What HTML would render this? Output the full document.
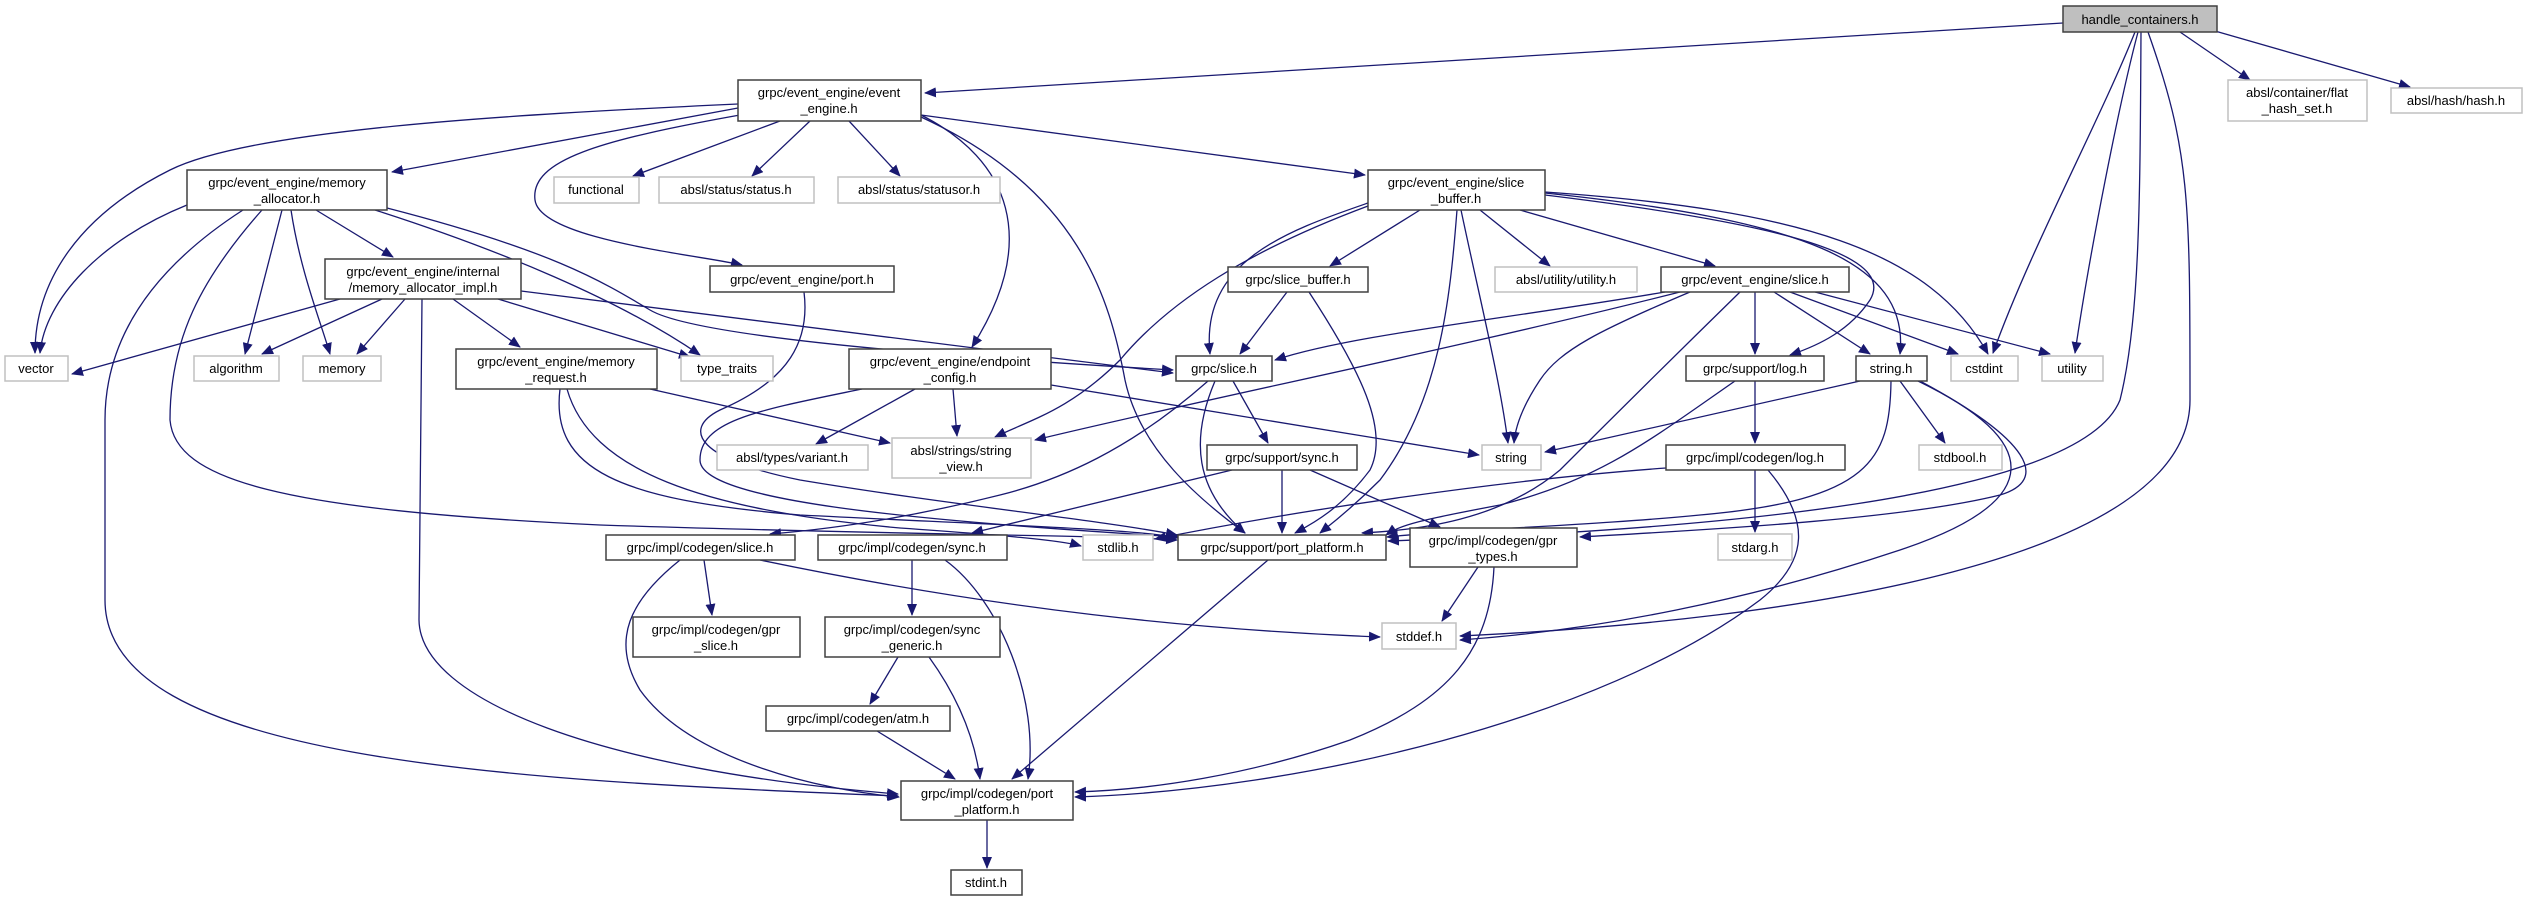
<!DOCTYPE html>
<html><head><meta charset="utf-8"><style>
html,body{margin:0;padding:0;background:#fff;width:2527px;height:901px;overflow:hidden}
svg text{font-family:"Liberation Sans",sans-serif;font-size:13px;fill:#000;text-anchor:middle}
.e{fill:none;stroke:#191970;stroke-width:1.3;marker-end:url(#a)}
.n{fill:#fff;stroke:#404040;stroke-width:1.5}
.g{fill:#fff;stroke:#c0c0c0;stroke-width:1.5}
</style></head><body>
<svg width="2527" height="901" viewBox="0 0 2527 901" xmlns="http://www.w3.org/2000/svg">
<defs><marker id="a" markerUnits="userSpaceOnUse" markerWidth="12" markerHeight="10" viewBox="0 0 12 10" refX="11" refY="5" orient="auto"><path d="M0,0 L12,5 L0,10 z" fill="#191970"/></marker></defs>
<g>
<!-- HC -->
<path class="e" d="M2063,23 L925,93"/>
<path class="e" d="M2180,32 L2250,80"/>
<path class="e" d="M2215,31 L2410,87"/>
<path class="e" d="M2135,32 C2100,120 2030,250 1993,353"/>
<path class="e" d="M2138,32 C2120,100 2090,250 2075,353"/>
<path class="e" d="M2141,32 C2140,200 2140,320 2120,400 C2080,500 1700,530 1388,541"/>
<path class="e" d="M2148,32 C2190,150 2190,200 2190,400 C2190,560 1800,620 1460,636"/>
<!-- EE -->
<path class="e" d="M738,104 C500,115 250,130 170,170 C80,215 35,280 35,353"/>
<path class="e" d="M738,108 L392,172"/>
<path class="e" d="M780,121 L633,176"/>
<path class="e" d="M810,121 L752,176"/>
<path class="e" d="M849,121 L900,176"/>
<path class="e" d="M740,115 C600,140 530,160 535,200 C540,240 700,255 742,265"/>
<path class="e" d="M921,115 C1010,160 1040,240 972,347"/>
<path class="e" d="M921,117 C1080,190 1110,300 1125,380 C1140,450 1200,500 1245,533"/>
<path class="e" d="M921,115 L1365,175"/>
<!-- MA -->
<path class="e" d="M187,205 C100,240 45,300 40,353"/>
<path class="e" d="M282,210 L245,354"/>
<path class="e" d="M291,210 C300,270 320,320 330,354"/>
<path class="e" d="M316,210 L393,257"/>
<path class="e" d="M375,210 C500,250 620,300 700,355"/>
<path class="e" d="M387,208 C550,250 600,280 650,310 C700,340 1000,360 1173,370"/>
<path class="e" d="M243,210 C150,270 105,340 105,420 L105,600 C105,760 500,780 898,796"/>
<path class="e" d="M262,210 C200,280 170,340 170,420 C175,480 280,510 600,525 C900,535 1100,535 1177,540"/>
<!-- MAI -->
<path class="e" d="M340,299 L72,374"/>
<path class="e" d="M382,299 L262,354"/>
<path class="e" d="M405,299 L357,354"/>
<path class="e" d="M453,299 L520,347"/>
<path class="e" d="M498,299 L690,357"/>
<path class="e" d="M521,291 L1173,373"/>
<path class="e" d="M422,299 L419,620 C420,700 600,770 898,794"/>
<!-- MR -->
<path class="e" d="M650,389 L890,443"/>
<path class="e" d="M560,389 C550,470 620,500 800,515 C1000,525 1150,530 1177,538"/>
<path class="e" d="M567,389 C590,470 700,510 900,528 C1000,535 1060,540 1081,546"/>
<path class="e" d="M804,292 C810,340 790,380 720,410 C680,430 700,460 800,480 C950,505 1100,520 1177,535"/>
<!-- EC -->
<path class="e" d="M915,389 L816,444"/>
<path class="e" d="M953,389 L957,436"/>
<path class="e" d="M1051,385 L1479,455"/>
<path class="e" d="M862,389 C760,410 700,420 700,460 C700,500 900,520 1180,537"/>
<!-- GS -->
<path class="e" d="M1233,381 L1268,443"/>
<path class="e" d="M1215,381 C1190,440 1195,490 1245,533"/>
<path class="e" d="M1208,381 C1130,450 1060,480 1000,495 C900,520 820,530 770,534"/>
<!-- SBE -->
<path class="e" d="M1368,203 C1290,230 1200,260 1210,354"/>
<path class="e" d="M1368,206 C1250,250 1170,300 1120,360 C1070,410 1030,420 995,437"/>
<path class="e" d="M1420,210 L1330,266"/>
<path class="e" d="M1480,210 L1550,266"/>
<path class="e" d="M1520,210 L1715,266"/>
<path class="e" d="M1457,210 C1450,300 1440,400 1380,480 C1350,510 1330,525 1320,533"/>
<path class="e" d="M1461,210 C1480,300 1500,380 1508,443"/>
<path class="e" d="M1545,195 C1750,220 1900,250 1870,300 C1850,330 1820,345 1790,355"/>
<path class="e" d="M1545,193 C1800,220 1910,260 1900,354"/>
<path class="e" d="M1545,192 C1800,210 1930,250 1988,354"/>
<!-- GSB -->
<path class="e" d="M1287,292 L1240,354"/>
<path class="e" d="M1309,292 C1360,370 1390,430 1370,470 C1340,510 1310,525 1295,533"/>
<!-- ES -->
<path class="e" d="M1665,292 C1500,320 1350,335 1275,360"/>
<path class="e" d="M1680,292 C1450,350 1200,400 1035,440"/>
<path class="e" d="M1690,292 C1600,330 1560,350 1540,380 C1520,410 1515,430 1514,443"/>
<path class="e" d="M1740,292 C1650,380 1600,430 1560,470 C1500,520 1420,530 1362,533"/>
<path class="e" d="M1755,292 L1755,354"/>
<path class="e" d="M1774,292 L1870,354"/>
<path class="e" d="M1790,292 L1958,354"/>
<path class="e" d="M1815,292 L2050,354"/>
<!-- log.h -->
<path class="e" d="M1755,381 L1755,443"/>
<path class="e" d="M1735,381 C1650,440 1600,480 1500,505 C1420,520 1400,525 1386,535"/>
<!-- string.h -->
<path class="e" d="M1860,381 L1545,452"/>
<path class="e" d="M1900,381 L1945,443"/>
<path class="e" d="M1891,381 C1890,460 1870,500 1700,515 C1600,525 1450,530 1387,537"/>
<path class="e" d="M1918,381 C2040,440 2050,500 1900,550 C1750,600 1600,630 1460,640"/>
<path class="e" d="M1920,381 C2030,440 2050,480 2000,495 C1900,520 1700,530 1580,537"/>
<!-- icg log -->
<path class="e" d="M1755,470 L1755,532"/>
<path class="e" d="M1666,468 C1500,480 1300,510 1155,539"/>
<path class="e" d="M1768,470 C1810,520 1810,560 1760,600 C1600,720 1300,790 1075,797"/>
<!-- support sync -->
<path class="e" d="M1232,470 L972,533"/>
<path class="e" d="M1282,470 L1282,533"/>
<path class="e" d="M1310,470 L1440,527"/>
<!-- icg slice -->
<path class="e" d="M704,560 L712,615"/>
<path class="e" d="M760,560 C1000,610 1200,630 1380,637"/>
<path class="e" d="M680,560 C630,600 610,640 640,690 C690,760 820,790 899,797"/>
<!-- icg sync -->
<path class="e" d="M912,560 L912,615"/>
<path class="e" d="M945,560 C1000,600 1040,700 1028,779"/>
<path class="e" d="M898,657 L870,704"/>
<path class="e" d="M929,657 C960,700 975,740 980,779"/>
<path class="e" d="M877,731 L955,779"/>
<path class="e" d="M1268,560 L1012,779"/>
<path class="e" d="M1478,567 L1442,621"/>
<path class="e" d="M1494,567 C1490,650 1450,700 1350,740 C1250,775 1150,790 1075,792"/>
<path class="e" d="M987,820 L987,868"/>
</g>
<g>
<rect x="2063" y="6" width="154" height="26" fill="#bfbfbf" stroke="#404040" stroke-width="1.5"/><text x="2140" y="24">handle_containers.h</text>
<rect class="g" x="2228" y="80" width="139" height="41"/><text x="2297" y="97">absl/container/flat</text><text x="2297" y="113">_hash_set.h</text>
<rect class="g" x="2391" y="88" width="131" height="25"/><text x="2456" y="105">absl/hash/hash.h</text>
<rect class="n" x="738" y="80" width="183" height="41"/><text x="829" y="97">grpc/event_engine/event</text><text x="829" y="113">_engine.h</text>
<rect class="n" x="187" y="170" width="200" height="40"/><text x="287" y="187">grpc/event_engine/memory</text><text x="287" y="203">_allocator.h</text>
<rect class="g" x="554" y="177" width="85" height="26"/><text x="596" y="194">functional</text>
<rect class="g" x="659" y="177" width="155" height="26"/><text x="736" y="194">absl/status/status.h</text>
<rect class="g" x="838" y="177" width="162" height="26"/><text x="919" y="194">absl/status/statusor.h</text>
<rect class="n" x="1368" y="170" width="177" height="40"/><text x="1456" y="187">grpc/event_engine/slice</text><text x="1456" y="203">_buffer.h</text>
<rect class="n" x="325" y="259" width="196" height="40"/><text x="423" y="276">grpc/event_engine/internal</text><text x="423" y="292">/memory_allocator_impl.h</text>
<rect class="n" x="710" y="266" width="184" height="26"/><text x="802" y="284">grpc/event_engine/port.h</text>
<rect class="n" x="1228" y="267" width="140" height="25"/><text x="1298" y="284">grpc/slice_buffer.h</text>
<rect class="g" x="1495" y="267" width="142" height="25"/><text x="1566" y="284">absl/utility/utility.h</text>
<rect class="n" x="1661" y="267" width="188" height="25"/><text x="1755" y="284">grpc/event_engine/slice.h</text>
<rect class="g" x="5" y="356" width="63" height="25"/><text x="36" y="373">vector</text>
<rect class="g" x="194" y="356" width="85" height="25"/><text x="236" y="373">algorithm</text>
<rect class="g" x="303" y="356" width="78" height="25"/><text x="342" y="373">memory</text>
<rect class="n" x="456" y="349" width="201" height="40"/><text x="556" y="366">grpc/event_engine/memory</text><text x="556" y="382">_request.h</text>
<rect class="g" x="681" y="356" width="92" height="25"/><text x="727" y="373">type_traits</text>
<rect class="n" x="849" y="349" width="202" height="40"/><text x="950" y="366">grpc/event_engine/endpoint</text><text x="950" y="382">_config.h</text>
<rect class="n" x="1176" y="356" width="96" height="25"/><text x="1224" y="373">grpc/slice.h</text>
<rect class="n" x="1686" y="356" width="138" height="25"/><text x="1755" y="373">grpc/support/log.h</text>
<rect class="n" x="1856" y="356" width="71" height="25"/><text x="1891" y="373">string.h</text>
<rect class="g" x="1951" y="356" width="67" height="25"/><text x="1984" y="373">cstdint</text>
<rect class="g" x="2042" y="356" width="61" height="25"/><text x="2072" y="373">utility</text>
<rect class="g" x="717" y="445" width="151" height="25"/><text x="792" y="462">absl/types/variant.h</text>
<rect class="g" x="892" y="438" width="139" height="40"/><text x="961" y="455">absl/strings/string</text><text x="961" y="471">_view.h</text>
<rect class="n" x="1207" y="445" width="150" height="25"/><text x="1282" y="462">grpc/support/sync.h</text>
<rect class="g" x="1482" y="445" width="59" height="25"/><text x="1511" y="462">string</text>
<rect class="n" x="1666" y="445" width="179" height="25"/><text x="1755" y="462">grpc/impl/codegen/log.h</text>
<rect class="g" x="1919" y="445" width="83" height="25"/><text x="1960" y="462">stdbool.h</text>
<rect class="n" x="606" y="535" width="189" height="25"/><text x="700" y="552">grpc/impl/codegen/slice.h</text>
<rect class="n" x="818" y="535" width="189" height="25"/><text x="912" y="552">grpc/impl/codegen/sync.h</text>
<rect class="g" x="1083" y="535" width="70" height="25"/><text x="1118" y="552">stdlib.h</text>
<rect class="n" x="1178" y="535" width="208" height="25"/><text x="1282" y="552">grpc/support/port_platform.h</text>
<rect class="n" x="1410" y="528" width="167" height="39"/><text x="1493" y="545">grpc/impl/codegen/gpr</text><text x="1493" y="561">_types.h</text>
<rect class="g" x="1718" y="534" width="74" height="26"/><text x="1755" y="552">stdarg.h</text>
<rect class="n" x="633" y="617" width="167" height="40"/><text x="716" y="634">grpc/impl/codegen/gpr</text><text x="716" y="650">_slice.h</text>
<rect class="n" x="825" y="617" width="175" height="40"/><text x="912" y="634">grpc/impl/codegen/sync</text><text x="912" y="650">_generic.h</text>
<rect class="g" x="1382" y="623" width="74" height="26"/><text x="1419" y="641">stddef.h</text>
<rect class="n" x="766" y="706" width="184" height="25"/><text x="858" y="723">grpc/impl/codegen/atm.h</text>
<rect class="n" x="901" y="781" width="172" height="39"/><text x="987" y="798">grpc/impl/codegen/port</text><text x="987" y="814">_platform.h</text>
<rect class="n" x="951" y="870" width="71" height="25"/><text x="986" y="887">stdint.h</text>
</g>
</svg>
</body></html>
